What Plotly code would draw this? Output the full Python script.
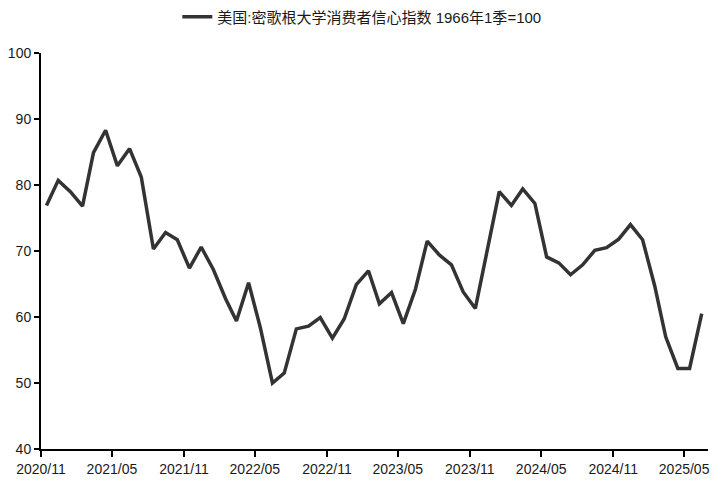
import plotly.graph_objects as go

months = ["2020-11","2020-12","2021-01","2021-02","2021-03","2021-04","2021-05","2021-06",
          "2021-07","2021-08","2021-09","2021-10","2021-11","2021-12","2022-01","2022-02",
          "2022-03","2022-04","2022-05","2022-06","2022-07","2022-08","2022-09","2022-10",
          "2022-11","2022-12","2023-01","2023-02","2023-03","2023-04","2023-05","2023-06",
          "2023-07","2023-08","2023-09","2023-10","2023-11","2023-12","2024-01","2024-02",
          "2024-03","2024-04","2024-05","2024-06","2024-07","2024-08","2024-09","2024-10",
          "2024-11","2024-12","2025-01","2025-02","2025-03","2025-04","2025-05","2025-06"]
sentiment = [76.9,80.7,79.0,76.8,84.9,88.3,82.9,85.5,
             81.2,70.3,72.8,71.7,67.4,70.6,67.2,62.8,
             59.4,65.2,58.4,50.0,51.5,58.2,58.6,59.9,
             56.8,59.7,64.9,67.0,62.0,63.7,59.0,64.2,
             71.5,69.4,67.9,63.8,61.3,69.7,79.0,76.9,
             79.4,77.2,69.1,68.2,66.4,67.9,70.1,70.5,
             71.8,74.0,71.7,64.7,57.0,52.2,52.2,60.5]
tick_dates = ["2020-11-01","2021-05-01","2021-11-01","2022-05-01","2022-11-01",
              "2023-05-01","2023-11-01","2024-05-01","2024-11-01","2025-05-01"]
tick_labels = ["2020/11","2021/05","2021/11","2022/05","2022/11",
               "2023/05","2023/11","2024/05","2024/11","2025/05"]
series_name = "美国:密歌根大学消费者信心指数 1966年1季=100"

x_dates = [m + "-15" for m in months]

FONT = "Liberation Sans, Arial, Noto Sans CJK SC, sans-serif"

fig = go.Figure()
fig.add_trace(go.Scatter(
    x=x_dates, y=sentiment, mode="lines", name=series_name,
    line=dict(color="#333333", width=3.5),
))

fig.update_layout(
    width=714, height=484,
    margin=dict(l=33, r=14, t=45, b=43, autoexpand=False),
    paper_bgcolor="white", plot_bgcolor="white",
    font=dict(family=FONT, size=14, color="#1a1a1a"),
    showlegend=True,
    legend=dict(orientation="h", x=0.481, xanchor="center",
                y=1.091, yanchor="middle", font=dict(size=15, family=FONT),
                bgcolor="rgba(0,0,0,0)"),
    xaxis=dict(type="date", range=["2020-11-01", "2025-07-01"],
               tickvals=tick_dates, ticktext=tick_labels,
               showgrid=False, zeroline=False,
               showline=True, linecolor="black", linewidth=2,
               ticks="outside", ticklen=6, tickwidth=2, tickcolor="black",
               tickfont=dict(size=14), tickangle=0),
    yaxis=dict(range=[40, 100], tickvals=[40,50,60,70,80,90,100],
               showgrid=False, zeroline=False,
               showline=True, linecolor="black", linewidth=2,
               ticks="outside", ticklen=5, tickwidth=2, tickcolor="black",
               tickfont=dict(size=14)),
)

fig.write_html("out.html")
